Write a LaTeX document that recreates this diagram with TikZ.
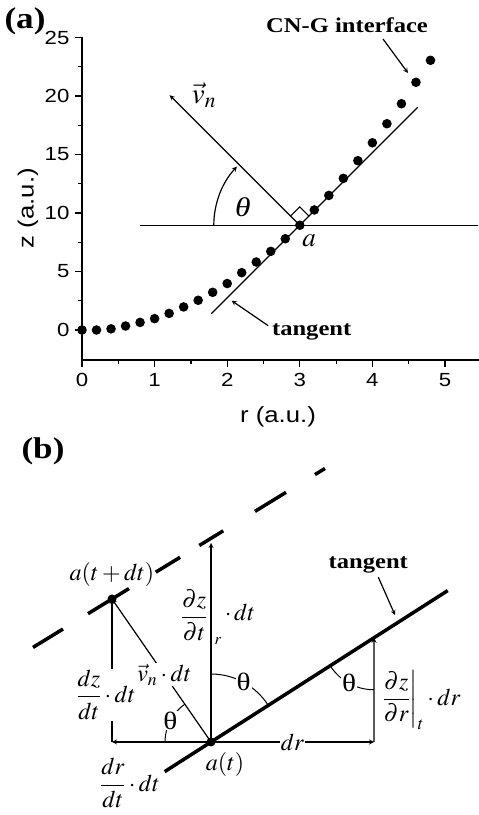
\documentclass[tikz,border=0pt]{standalone}
\usepackage{amsmath}
\usepackage{mathptmx}
\usepackage[no-math]{fontspec}
\setmainfont[FakeStretch=1.17]{Liberation Serif}
\setsansfont[FakeStretch=1.17]{Liberation Sans}
\usetikzlibrary{calc}
\newcommand{\fsz}[1]{\fontsize{#1}{#1}\selectfont}

\begin{document}
\begin{tikzpicture}[x=1pt, y=1pt, >=stealth, line width=1.2pt]
  \tikzstyle{ticklbl}=[font=\sffamily\fsz{19}, inner sep=0pt]
  \tikzstyle{lbl}=[font=\bfseries\fsz{21}]
  \tikzstyle{mth}=[font=\fsz{24}]
  \tikzstyle{cut}=[fill=white, inner sep=1pt]
  \tikzstyle{thick line}=[line width=3.5pt]
  \useasboundingbox (0,0) rectangle (479,815);

  % (a) profile of the interface
  \node[font=\bfseries\fsz{30}] (pa) at (25,794) {(a)};
  \begin{scope}[shift={(82,485)}, x=72.6pt, y=11.7pt]
    \draw (0,-2.56) -- (0,25);
    \draw (0,-2.56) -- (5.47,-2.56);
    \foreach \z in {0,5,...,25}
      \draw (0,\z) -- ++(-7pt,0) node[ticklbl, anchor=east, xshift=-5pt] {\z};
    \foreach \z in {2.5,7.5,...,22.5}
      \draw (0,\z) -- ++(-4pt,0);
    \foreach \r in {0,...,5}
      \draw (\r,-2.56) -- ++(0,-7pt) node[ticklbl, anchor=north, yshift=-6pt] {\r};
    \foreach \r in {0.5,1.5,...,4.5}
      \draw (\r,-2.56) -- ++(0,-4pt);
    \foreach \r/\z in {0/0, 0.2/0, 0.4/0.1, 0.6/0.34, 0.8/0.65, 1.0/0.97,
        1.2/1.42, 1.4/1.97, 1.6/2.54, 1.8/3.22, 2.0/3.97, 2.2/4.9, 2.4/5.81,
        2.6/6.72, 2.8/7.8, 3.0/8.95, 3.2/10.26, 3.4/11.5, 3.6/12.96,
        3.8/14.47, 4.0/16.0, 4.2/17.63, 4.4/19.34, 4.6/21.17, 4.8/23.05}
      \fill (\r,\z) circle (4.8pt);
    \coordinate (a) at (3,8.95);
    \draw (0.8,8.95) -- (5.45,8.95);
  \end{scope}
  \node[font=\sffamily\fsz{22}, rotate=90] (zlab) at (28,607) {z (a.u.)};
  \node[font=\sffamily\fsz{22}] (rlab) at (278,398) {r (a.u.)};

  \draw ($(a)+(225:125)$) -- ($(a)+(45:167)$);
  \coordinate (vn) at ($(a)+(135:184)$);
  \draw[->] (a) -- (vn);
  \draw[->] ($(a)+(180:86)$) arc (180:137:86);
  \draw[line width=1pt] ($(a)+(45:13)$) -- ++(135:13) -- ++(225:13);
  \node[font=\itshape\fsz{27}] (tha) at (243,608) {θ};
  \node[font=\fsz{27}] (alab) at (309,574) {$a$};
  \node[font=\fsz{29}] (vlab) at (204,720) {$\vec{v}_n$};

  \node[lbl] (cng) at (347,790) {CN-G interface};
  \coordinate (cngtail) at (383,776);
  \coordinate (cngtip) at (408,742);
  \draw[->] (cngtail) -- (cngtip);
  \node[lbl] (tga) at (311.7,483.3) {tangent};
  \coordinate (tgatip) at (231.7,514.3);
  \draw[->] ([yshift=6pt]tga.west) -- (tgatip);

  % (b) displacement of point a
  \node[font=\bfseries\fsz{30}] (pb) at (43,364) {(b)};
  \coordinate (at) at (211,73);
  \coordinate (atd) at (112,216);
  \coordinate (hl) at (112,73);
  \coordinate (hr) at (374,73);
  \coordinate (tp) at ($(at)+(32.6:193.5)$);
  \coordinate (up) at (211,272);

  \draw[thick line] ($(at)+(212.6:55)$) -- ($(at)+(32.6:281)$);
  \foreach \p/\q in {-92.7/-57.5, -28.1/19.9, 51.3/79.8, 102.4/130.5,
      167.7/204.1, 238.1/249.8}
    \draw[thick line] ($(atd)+(31.5:\p)$) -- ($(atd)+(31.5:\q)$);

  \draw[->] (at) -- (hl);
  \draw[->] (at) -- node[cut, mth] (drl) {$dr$} (hr);
  \draw[->] (hr) -- (tp);
  \draw[->] (hl) -- node[cut, mth, pos=0.33, xshift=-6pt] (dzl)
    {$\displaystyle\frac{dz}{dt}\cdot dt$} (atd);
  \draw[->] (at) -- node[cut, mth, pos=0.47] (vnl) {$\vec{v}_n\cdot dt$} (atd);
  \draw[->] (at) -- (up);
  \node[mth, anchor=east, inner sep=1pt] (dzt) at (209,200)
    {$\displaystyle\frac{\partial z}{\partial t}$};
  \node[font=\fsz{16}] (rsub) at (218,174) {$r$};
  \node[mth, anchor=west] (dtr) at (221,203) {$\cdot\, dt$};
  \node[mth] (dzr) at (421,115)
    {$\displaystyle\left.\frac{\partial z}{\partial r}\right|_t\cdot dr$};
  \node[mth] (drdt) at (130,32) {$\displaystyle\frac{dr}{dt}\cdot dt$};
  \node[mth] (atl) at (225,50) {$a(t)$};
  \node[mth] (atdl) at (112,240) {$a(t+dt)$};
  \fill (at) circle (4.5);
  \fill (atd) circle (4.5);

  \draw[line width=1pt] ($(at)+(180:46)$) arc (180:124.7:46);
  \node[cut, font=\fsz{25}] (th1) at ($(at)+(152:46)$) {θ};
  \draw[line width=1pt] ($(at)+(90:68)$) arc (90:32.6:68);
  \node[cut, font=\fsz{25}] (th2) at ($(at)+(61.3:68)$) {θ};
  \draw[line width=1pt] ($(tp)+(212.6:52)$) arc (212.6:270:52);
  \node[cut, font=\fsz{25}] (th3) at ($(tp)+(241.3:52)$) {θ};

  \node[lbl] (tgb) at (368.3,250) {tangent};
  \coordinate (tgbtip) at (395,200);
  \draw[->] ([xshift=10pt]tgb.south) -- (tgbtip);
\end{tikzpicture}
\end{document}
